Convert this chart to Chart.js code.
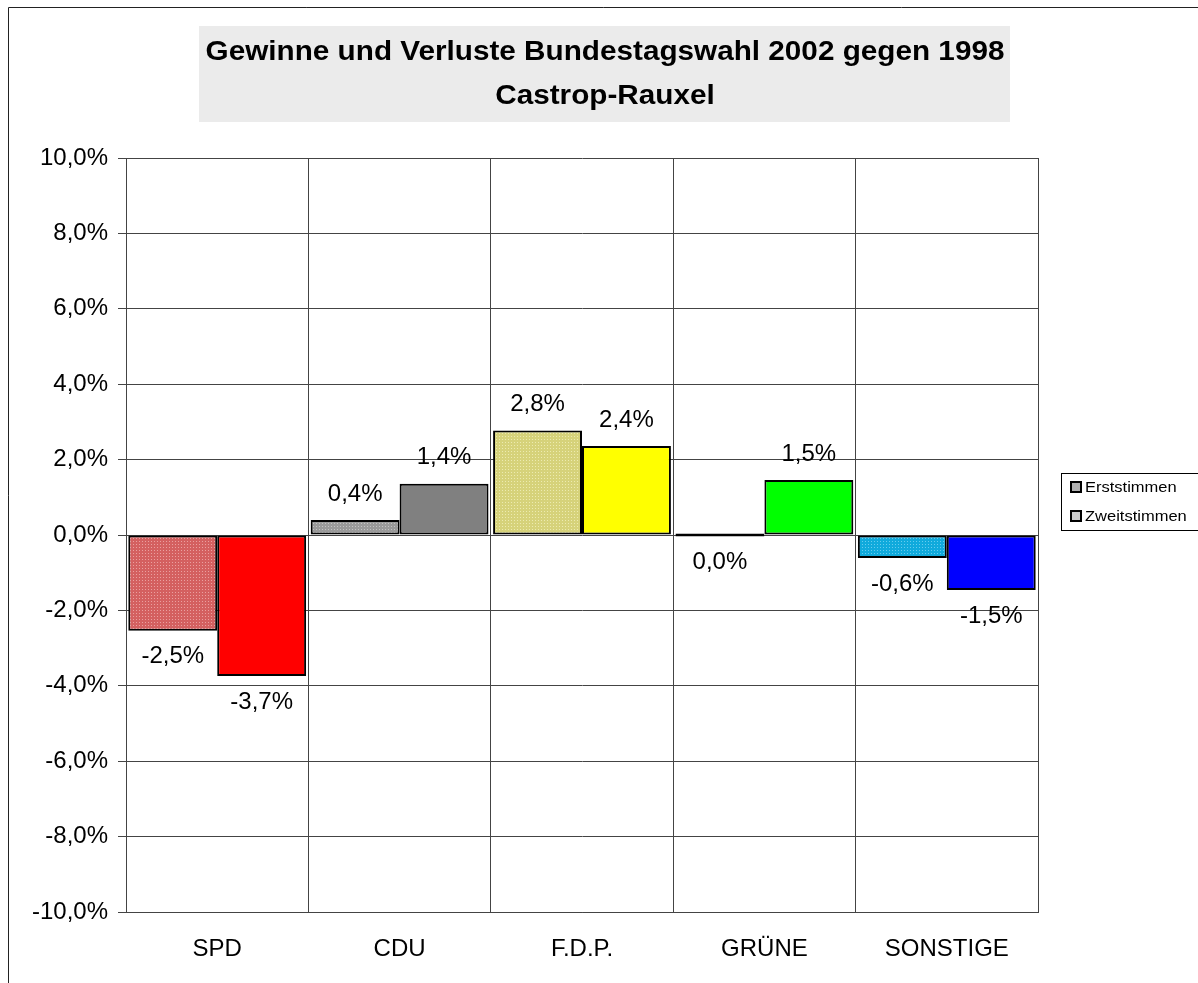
<!DOCTYPE html>
<html>
<head>
<meta charset="utf-8">
<title>Gewinne und Verluste Bundestagswahl 2002 gegen 1998</title>
<script src="https://cdn.jsdelivr.net/npm/chart.js@4/dist/chart.umd.min.js"></script>
<style>
  body { margin: 0; background: #fff; }
  #wrap { width: 1198px; height: 983px; }
</style>
</head>
<body>
<div id="wrap"><canvas id="myChart" width="1198" height="983"></canvas></div>
<script>
// data
var parties = ['SPD', 'CDU', 'F.D.P.', 'GRÜNE', 'SONSTIGE'];
var erststimmen = [-2.54, 0.4, 2.77, 0, -0.61];
var zweitstimmen = [-3.74, 1.36, 2.36, 1.46, -1.46];
var yTicks = [-10, -8, -6, -4, -2, 0, 2, 4, 6, 8, 10];

var titleLines = ['Gewinne und Verluste Bundestagswahl 2002 gegen 1998', 'Castrop-Rauxel'];
var legendLabels = ['Erststimmen', 'Zweitstimmen'];

var FONT = '"Liberation Sans", Arial, sans-serif';

function fmt(v) {
    return v.toFixed(1).replace('.', ',') + '%';
}

// dotted fill like the old excel patterns
function dotted(base, dot) {
    var c = document.createElement('canvas');
    c.width = 3; c.height = 3;
    var g = c.getContext('2d');
    g.fillStyle = base;
    g.fillRect(0, 0, 3, 3);
    g.fillStyle = dot;
    g.fillRect(1, 1, 1, 1);
    return g.createPattern(c, 'repeat');
}

var erstColors = [
    dotted('#d46060', '#eaa0a0'),
    dotted('#9a9a9a', '#c4c4c4'),
    dotted('#d6d27a', '#ecebb0'),
    '#000000',
    dotted('#10aadc', '#66ccee')
];
var zweitColors = ['#ff0000', '#808080', '#ffff00', '#00ff00', '#0000ff'];

// text a bit wider than the font, the original is stretched sideways
function wideText(c, txt, x, y, sx) {
    c.save();
    c.translate(x, y);
    c.scale(sx, 1);
    c.fillText(txt, 0, 0);
    c.restore();
}

var decor = {
    id: 'decor',
    beforeDraw: function (chart) {
        var c = chart.ctx;
        c.save();
        c.fillStyle = '#fff';
        c.fillRect(0, 0, chart.width, chart.height);
        // outer frame
        c.strokeStyle = '#222';
        c.lineWidth = 1;
        c.beginPath();
        c.moveTo(8.5, 1000);
        c.lineTo(8.5, 7.5);
        c.lineTo(1210, 7.5);
        c.stroke();
        // title box
        c.fillStyle = '#ebebeb';
        c.fillRect(199, 26, 811, 96);
        c.fillStyle = '#000';
        c.font = 'bold 27px ' + FONT;
        c.textAlign = 'center';
        c.textBaseline = 'middle';
        wideText(c, titleLines[0], 605, 53, 1.1);
        wideText(c, titleLines[1], 605, 97, 1.1);
        // legend
        c.strokeStyle = '#000';
        c.strokeRect(1061.5, 473.5, 150, 57);
        c.font = '15px ' + FONT;
        c.textAlign = 'left';
        var ys = [487, 516];
        for (var i = 0; i < legendLabels.length; i++) {
            c.fillStyle = i == 0 ? '#b0b0b0' : '#c8c8c8';
            c.fillRect(1071, ys[i] - 5, 10, 10);
            c.strokeStyle = '#000';
            c.lineWidth = 2;
            c.strokeRect(1071, ys[i] - 5, 10, 10);
            c.fillStyle = '#000';
            wideText(c, legendLabels[i], 1085, ys[i] + 1, 1.1);
        }
        c.restore();
    },
    afterDatasetsDraw: function (chart) {
        var c = chart.ctx;
        c.save();
        c.font = '24px ' + FONT;
        c.fillStyle = '#000';
        c.textAlign = 'center';
        c.textBaseline = 'middle';
        chart.data.datasets.forEach(function (ds, di) {
            var meta = chart.getDatasetMeta(di);
            meta.data.forEach(function (bar, i) {
                var v = ds.data[i];
                var y = v > 0 ? bar.y - 26 : Math.max(bar.y, bar.base) + 26;
                c.fillText(fmt(v), bar.x, y);
            });
        });
        c.restore();
    }
};

var ctx = document.getElementById('myChart').getContext('2d');
var chart = new Chart(ctx, {
    type: 'bar',
    data: {
        labels: parties,
        datasets: [{
            label: legendLabels[0],
            data: erststimmen,
            backgroundColor: erstColors,
            borderColor: '#000',
            borderWidth: 2,
            borderSkipped: false,
            minBarLength: 3,
            barPercentage: 1,
            categoryPercentage: 0.975
        }, {
            label: legendLabels[1],
            data: zweitstimmen,
            backgroundColor: zweitColors,
            borderColor: '#000',
            borderWidth: 2,
            borderSkipped: false,
            barPercentage: 1,
            categoryPercentage: 0.975
        }]
    },
    options: {
        responsive: false,
        animation: false,
        layout: { padding: { top: 158, right: 160, left: 0, bottom: 0 } },
        plugins: {
            legend: { display: false },
            title: { display: false },
            tooltip: { enabled: false }
        },
        scales: {
            x: {
                grid: { color: '#444', lineWidth: 1, drawTicks: false, offset: true },
                border: { color: '#444' },
                ticks: { color: '#000', font: { family: FONT, size: 24 }, padding: 23 },
                afterFit: function (s) { s.height = 71; }
            },
            y: {
                min: -10,
                max: 10,
                afterBuildTicks: function (s) {
                    s.ticks = yTicks.map(function (v) { return { value: v }; });
                },
                grid: { color: '#444', lineWidth: 1, tickLength: 8 },
                border: { color: '#444' },
                ticks: {
                    color: '#000',
                    font: { family: FONT, size: 24 },
                    padding: 10,
                    callback: function (v) { return fmt(v); }
                },
                afterFit: function (s) { s.width = 126; }
            }
        }
    },
    plugins: [decor]
});
</script>
</body>
</html>
